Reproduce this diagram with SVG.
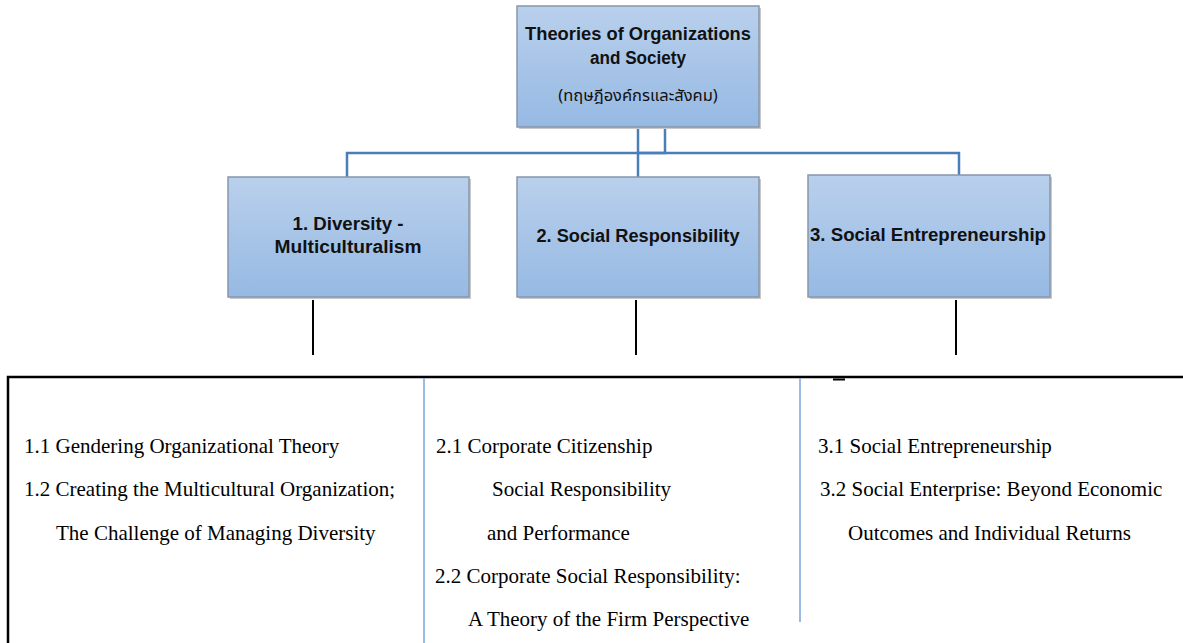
<svg xmlns="http://www.w3.org/2000/svg" width="1183" height="643" viewBox="0 0 1183 643">
<defs>
<linearGradient id="boxfill" x1="0" y1="0" x2="0" y2="1">
<stop offset="0" stop-color="#b9d0ec"/>
<stop offset="1" stop-color="#96b9e3"/>
</linearGradient>
<style>
.box{fill:url(#boxfill);stroke:#8797ad;stroke-width:1.5}
.shadow{fill:#c9c9c9}
.bt{font-family:"Liberation Sans",Arial,sans-serif;font-weight:bold;font-size:18px;fill:#111;text-anchor:middle}
.th{font-family:"Noto Sans Thai","Noto Sans","DejaVu Sans",sans-serif;font-size:16.5px;fill:#111;text-anchor:middle}
.blue{fill:none;stroke:#4a7ebb;stroke-width:2.5}
.blk{fill:none;stroke:#000;stroke-width:2}
.sep{fill:none;stroke:#7aa7dc;stroke-width:1.5}
.st{font-family:"Liberation Serif","Times New Roman",serif;font-size:21px;fill:#000}
</style>
</defs>
<rect width="1183" height="643" fill="#fff"/>
<g id="connectors">
<path class="blue" d="M638,127 V177"/>
<path class="blue" d="M665,127 V153 H638"/>
<path class="blue" d="M347,178 V153 H959 V176"/>
<path class="blk" d="M313,300 V355"/>
<path class="blk" d="M636,300 V355"/>
<path class="blk" d="M956,300 V355"/>
</g>
<g id="root">
<rect class="shadow" x="519" y="8" width="242" height="121"/>
<rect class="box" x="517" y="6" width="242" height="121"/>
<text class="bt" x="638" y="40" textLength="226" lengthAdjust="spacingAndGlyphs">Theories of Organizations</text>
<text class="bt" x="638" y="64" textLength="96" lengthAdjust="spacingAndGlyphs">and Society</text>
<text class="th" x="638" y="101">(ทฤษฎีองค์กรและสังคม)</text>
</g>
<g id="n1">
<rect class="shadow" x="230" y="179" width="241" height="120"/>
<rect class="box" x="228" y="177" width="241" height="120"/>
<text class="bt" x="348" y="230" textLength="111" lengthAdjust="spacingAndGlyphs">1. Diversity -</text>
<text class="bt" x="348" y="253" textLength="147" lengthAdjust="spacingAndGlyphs">Multiculturalism</text>
</g>
<g id="n2">
<rect class="shadow" x="519" y="179" width="242" height="120"/>
<rect class="box" x="517" y="177" width="242" height="120"/>
<text class="bt" x="638" y="242" textLength="203" lengthAdjust="spacingAndGlyphs">2. Social Responsibility</text>
</g>
<g id="n3">
<rect class="shadow" x="810" y="177" width="242" height="122"/>
<rect class="box" x="808" y="175" width="242" height="122"/>
<text class="bt" x="928" y="241" textLength="236" lengthAdjust="spacingAndGlyphs">3. Social Entrepreneurship</text>
</g>
<g id="frame">
<path d="M8,643 V377 H1183" fill="none" stroke="#000" stroke-width="2.5"/>
<path class="sep" d="M424,378 V643"/>
<path class="sep" d="M800,378 V622"/>
<path d="M833,379.5 H845" stroke="#000" stroke-width="2"/>
</g>
<g id="col1">
<text class="st" x="24" y="453">1.1 Gendering Organizational Theory</text>
<text class="st" x="24" y="496">1.2 Creating the Multicultural Organization;</text>
<text class="st" x="56" y="540">The Challenge of Managing Diversity</text>
</g>
<g id="col2">
<text class="st" x="436" y="453">2.1 Corporate Citizenship</text>
<text class="st" x="492" y="496">Social Responsibility</text>
<text class="st" x="487" y="540">and Performance</text>
<text class="st" x="435" y="583">2.2 Corporate Social Responsibility:</text>
<text class="st" x="468" y="626">A Theory of the Firm Perspective</text>
</g>
<g id="col3">
<text class="st" x="818" y="453">3.1 Social Entrepreneurship</text>
<text class="st" x="820" y="496">3.2 Social Enterprise: Beyond Economic</text>
<text class="st" x="848" y="540">Outcomes and Individual Returns</text>
</g>
</svg>
